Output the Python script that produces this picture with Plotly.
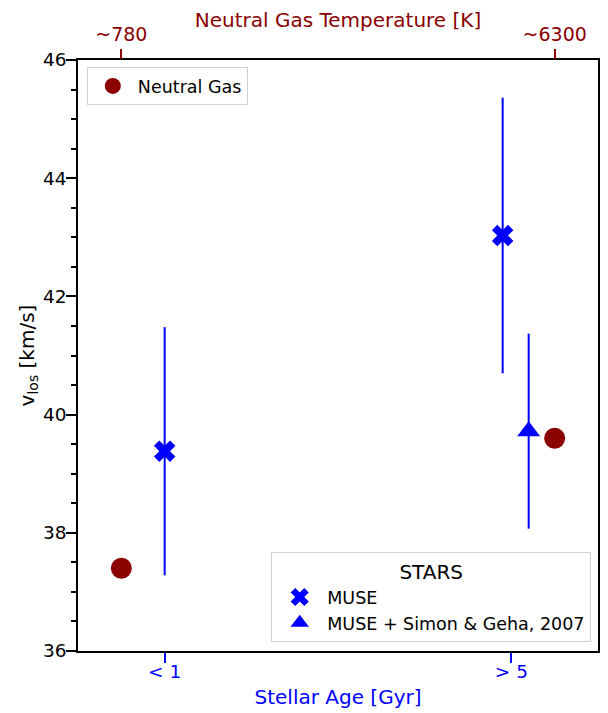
import plotly.graph_objects as go

# ---- data ----
age_labels = ["< 1", "> 5"]
age_positions = [0, 1]
gas_temp_labels = ["~780", "~6300"]
gas_positions = [-0.125, 1.125]

gas_v = [37.40, 39.60]

muse_x = [0.0, 0.975]
muse_v = [39.38, 43.03]
muse_err = [2.10, 2.33]

sg_x = [1.05]
sg_v = [39.72]
sg_err = [1.65]

FONT = "DejaVu Sans"
DARKRED = "#8B0000"
XR = [-0.25, 1.25]

fig = go.Figure()

fig.add_trace(go.Scatter(
    x=gas_positions, y=gas_v, mode="markers", name="Neutral Gas",
    xaxis="x2", yaxis="y",
    marker=dict(symbol="circle", size=21, color=DARKRED),
    legend="legend",
))
fig.add_trace(go.Scatter(
    x=muse_x, y=muse_v, mode="markers", name="MUSE",
    marker=dict(symbol="x", size=19, color="blue", line=dict(width=0)),
    error_y=dict(type="data", array=muse_err, width=0, thickness=2, color="blue"),
    legend="legend2",
))
fig.add_trace(go.Scatter(
    x=sg_x, y=sg_v, mode="markers", name="MUSE + Simon & Geha, 2007",
    marker=dict(symbol="triangle-up", size=20, color="blue", line=dict(width=0)),
    error_y=dict(type="data", array=sg_err, width=0, thickness=2, color="blue"),
    legend="legend2",
))

fig.update_layout(
    width=600, height=705,
    margin=dict(l=70, r=10, t=52, b=62, autoexpand=False),
    paper_bgcolor="white", plot_bgcolor="white",
    font=dict(family=FONT, size=17, color="black"),
    showlegend=True,
    xaxis=dict(
        range=XR, tickmode="array", tickvals=age_positions, ticktext=age_labels,
        showgrid=False, zeroline=False, automargin=False,
        ticks="outside", ticklen=10, tickwidth=2, tickcolor="blue",
        ticklabelstandoff=-7,
        tickfont=dict(size=18.5, color="blue", family=FONT),
        showline=True, linecolor="black", linewidth=1.5, mirror=True,
        title=dict(text="Stellar Age [Gyr]", font=dict(size=20, color="blue", family=FONT), standoff=9),
    ),
    xaxis2=dict(
        range=XR, overlaying="x", side="top", anchor="y",
        tickmode="array", tickvals=gas_positions, ticktext=gas_temp_labels,
        showgrid=False, zeroline=False, showline=False, automargin=False,
        ticks="outside", ticklen=10, tickwidth=2, tickcolor=DARKRED,
        tickfont=dict(size=19, color=DARKRED, family=FONT),
        title=dict(text="Neutral Gas Temperature [K]", font=dict(size=20, color=DARKRED, family=FONT), standoff=0),
    ),
    yaxis=dict(
        range=[36, 46], tickmode="array", tickvals=[36, 38, 40, 42, 44, 46],
        showgrid=False, zeroline=False, automargin=False,
        ticks="outside", ticklen=10, tickwidth=1.5, tickcolor="black",
        ticklabelstandoff=-4,
        tickfont=dict(size=18.5, color="black", family=FONT),
        minor=dict(ticks="outside", ticklen=5, tickwidth=1.5, tickcolor="black",
                   dtick=0.5, tick0=36, showgrid=False),
        showline=True, linecolor="black", linewidth=1.5, mirror=True,
        title=dict(text="v<sub>los</sub> [km/s]", font=dict(size=20, color="black", family=FONT), standoff=3),
    ),
    legend=dict(
        x=0.017, y=0.988, xanchor="left", yanchor="top",
        bgcolor="white", bordercolor="#d0d0d0", borderwidth=1,
        itemwidth=40,
        font=dict(size=17.5, family=FONT),
    ),
    legend2=dict(
        x=0.987, y=0.015, xanchor="right", yanchor="bottom",
        bgcolor="white", bordercolor="#d0d0d0", borderwidth=1,
        itemwidth=45,
        font=dict(size=17.5, family=FONT),
        title=dict(text="STARS", side="top center", font=dict(size=20, family=FONT)),
    ),
)

fig.write_html("out.html")
